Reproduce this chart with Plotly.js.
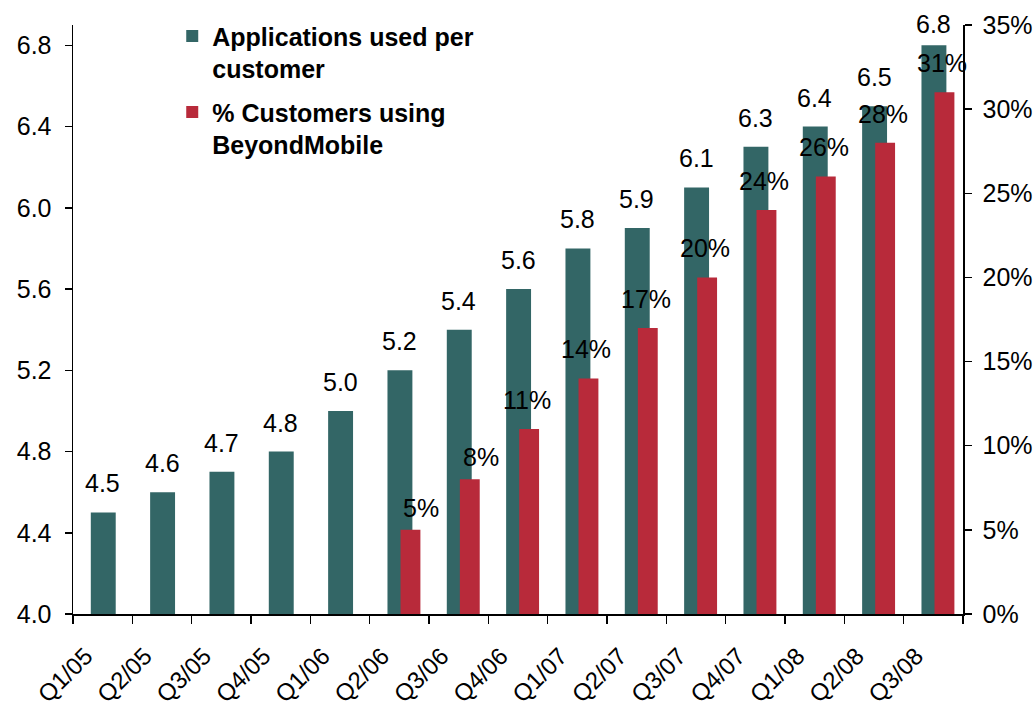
<!DOCTYPE html>
<html>
<head>
<meta charset="utf-8">
<script src="https://cdn.plot.ly/plotly-3.0.1.min.js"></script>
<style>html,body{margin:0;padding:0;background:#fff;}#chart{width:1036px;height:710px;}</style>
</head>
<body>
<div id="chart"></div>
<script>
const quarters = ["Q1/05","Q2/05","Q3/05","Q4/05","Q1/06","Q2/06","Q3/06","Q4/06","Q1/07","Q2/07","Q3/07","Q4/07","Q1/08","Q2/08","Q3/08"];
const appsPerCustomer = [4.5,4.6,4.7,4.8,5.0,5.2,5.4,5.6,5.8,5.9,6.1,6.3,6.4,6.5,6.8];
const pctBeyondMobile = [null,null,null,null,null,5,8,11,14,17,20,24,26,28,31];
const appsLabels = ["4.5","4.6","4.7","4.8","5.0","5.2","5.4","5.6","5.8","5.9","6.1","6.3","6.4","6.5","6.8"];
const pctLabels = ["","","","","","5%","8%","11%","14%","17%","20%","24%","26%","28%","31%"];

const TEAL = "#336666";
const RED = "#B82A3A";
const FONT = "Liberation Sans, Arial, sans-serif";
const labelFont = {family: FONT, size: 25, color: "#000"};

const traces = [
  {
    type: "bar", name: "Applications used per<br>customer", legendgroup: "a",
    x: quarters, y: appsPerCustomer, yaxis: "y",
    marker: {color: TEAL}, width: 0.42, offset: -0.2,
    hoverinfo: "x+y"
  },
  {
    type: "bar", name: "% Customers using<br>BeyondMobile", legendgroup: "b",
    x: quarters, y: pctBeyondMobile, yaxis: "y2",
    marker: {color: RED}, width: 0.335, offset: 0.02,
    hoverinfo: "x+y"
  }
];

const annotations = [];
quarters.forEach((q, i) => {
  const last = i === quarters.length - 1;
  annotations.push({
    x: q, y: appsPerCustomer[i], xref: "x", yref: "y",
    text: appsLabels[i], showarrow: false, yanchor: "bottom",
    xshift: 0, yshift: last ? 5 : 13, font: labelFont
  });
  if (pctBeyondMobile[i] !== null) {
    const early = pctBeyondMobile[i] <= 8;
    annotations.push({
      x: q, y: pctBeyondMobile[i], xref: "x", yref: "y2",
      text: pctLabels[i], showarrow: false, yanchor: "bottom",
      xshift: early ? 22 : 9, yshift: early ? 6 : 13, font: labelFont
    });
  }
});

const layout = {
  width: 1036, height: 710,
  margin: {l: 73, r: 73, t: 25, b: 96},
  paper_bgcolor: "#fff", plot_bgcolor: "#fff",
  barmode: "overlay",
  showlegend: true,
  legend: {
    x: 0.1115, y: 1.02, xanchor: "left", yanchor: "top",
    bgcolor: "rgba(0,0,0,0)", valign: "top",
    font: {family: FONT, size: 25, color: "#000", weight: "bold"},
    tracegroupgap: 8
  },
  font: {family: FONT, size: 25, color: "#000"},
  xaxis: {
    type: "category",
    showline: true, linecolor: "#000", linewidth: 1.5,
    ticks: "outside", ticklen: 8, tickwidth: 1.5, tickcolor: "#000",
    tickson: "boundaries", tickangle: -45,
    ticklabelstandoff: 17, ticklabelshift: -17,
    tickfont: {family: FONT, size: 24, color: "#000"}, showgrid: false, zeroline: false,
    range: [-0.5, 14.5]
  },
  yaxis: {
    range: [4.0, 6.9], dtick: 0.4, tick0: 4.0, tickformat: ".1f",
    showline: true, linecolor: "#000", linewidth: 1.5,
    ticks: "outside", ticklen: 7, tickwidth: 1.5, tickcolor: "#000",
    ticklabelstandoff: 8,
    tickfont: labelFont, showgrid: false, zeroline: false
  },
  yaxis2: {
    overlaying: "y", side: "right",
    range: [0, 35], dtick: 5, tick0: 0, ticksuffix: "%",
    showline: true, linecolor: "#000", linewidth: 1.5,
    ticks: "outside", ticklen: 7, tickwidth: 1.5, tickcolor: "#000",
    ticklabelstandoff: 6,
    tickfont: labelFont, showgrid: false, zeroline: false
  },
  annotations: annotations
};

Plotly.newPlot("chart", traces, layout, {displayModeBar: false, staticPlot: true});
</script>
</body>
</html>
